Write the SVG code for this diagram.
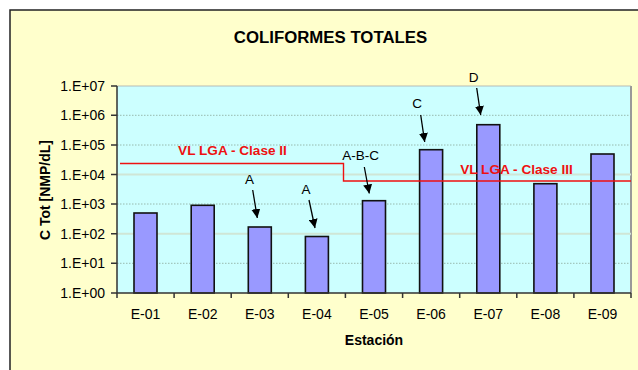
<svg xmlns="http://www.w3.org/2000/svg" width="638" height="370" viewBox="0 0 638 370">
<defs>
<marker id="ah" viewBox="0 0 10 10" refX="10" refY="5" markerWidth="9" markerHeight="9" markerUnits="userSpaceOnUse" orient="auto"><path d="M0,0 L10,5 L0,10 z" fill="#000"/></marker>
<style>
.t{font-family:"Liberation Sans",Arial,sans-serif;fill:#000}
.tick{font-size:14px;text-anchor:end}
.xl{font-size:14px;text-anchor:middle}
.red{font-family:"Liberation Sans",Arial,sans-serif;font-weight:bold;font-size:13.6px;fill:#ee1111}
.ann{font-size:13.5px;text-anchor:middle}
.bar{fill:#9999ff;stroke:#111;stroke-width:1.6}
.gd{stroke:#8aa89a;stroke-width:0.8;stroke-dasharray:1.5 1.5}
.gs{stroke:#cfe6d6;stroke-width:2}
.ax{stroke:#333;stroke-width:1.5;fill:none}
.arr{stroke:#000;stroke-width:1.3;marker-end:url(#ah)}
</style>
</defs>
<rect x="0" y="0" width="638" height="370" fill="#fff"/>
<rect x="10" y="10" width="700" height="400" fill="#ffffcc" stroke="#222" stroke-width="1.5"/>
<text class="t" x="330.5" y="43" font-size="16.8" font-weight="bold" text-anchor="middle">COLIFORMES TOTALES</text>
<g id="plot">
<rect x="117" y="86" width="514" height="207" fill="#ccffff"/>
<line x1="631" y1="86" x2="631" y2="293" stroke="#999" stroke-width="2"/>
<line x1="117" y1="86" x2="631" y2="86" stroke="#aaa" stroke-width="0.8"/>
<line class="gd" x1="117" y1="115.3" x2="631" y2="115.3"/>
<line class="gd" x1="117" y1="145" x2="631" y2="145"/>
<line class="gs" x1="117" y1="174.5" x2="631" y2="174.5"/>
<line class="gd" x1="117" y1="204" x2="631" y2="204"/>
<line class="gs" x1="117" y1="233.7" x2="631" y2="233.7"/>
<line class="gd" x1="117" y1="263.3" x2="631" y2="263.3"/>
</g>
<g id="bars">
<rect id="E-01" class="bar" x="134" y="213" width="23" height="80"/>
<rect id="E-02" class="bar" x="191.2" y="205.3" width="23" height="87.7"/>
<rect id="E-03" class="bar" x="248.3" y="227" width="23" height="66"/>
<rect id="E-04" class="bar" x="305.4" y="236.5" width="23" height="56.5"/>
<rect id="E-05" class="bar" x="362.5" y="200.7" width="23" height="92.3"/>
<rect id="E-06" class="bar" x="419.6" y="149.7" width="23" height="143.3"/>
<rect id="E-07" class="bar" x="476.8" y="124.7" width="23" height="168.3"/>
<rect id="E-08" class="bar" x="533.9" y="183.7" width="23" height="109.3"/>
<rect id="E-09" class="bar" x="591" y="154" width="23" height="139"/>
</g>
<g id="limits">
<polyline points="120,163.5 343.5,163.5 343.5,181 631,181" fill="none" stroke="#ee1111" stroke-width="1.4"/>
<text class="red" x="232.5" y="155" text-anchor="middle">VL LGA - Clase II</text>
<text class="red" x="516.5" y="174" text-anchor="middle">VL LGA - Clase III</text>
</g>
<g id="axes">
<path class="ax" d="M117,86 V293 H631"/>
<path class="ax" d="M111,86 H117 M111,115.3 H117 M111,145 H117 M111,174.5 H117 M111,204 H117 M111,233.7 H117 M111,263.3 H117 M111,293 H117"/>
<path class="ax" d="M117,293 V298 M174.1,293 V298 M231.2,293 V298 M288.3,293 V298 M345.4,293 V298 M402.6,293 V298 M459.7,293 V298 M516.8,293 V298 M573.9,293 V298 M631,293 V298"/>
<g class="t tick">
<text x="105" y="91">1.E+07</text>
<text x="105" y="120.3">1.E+06</text>
<text x="105" y="150">1.E+05</text>
<text x="105" y="179.5">1.E+04</text>
<text x="105" y="209">1.E+03</text>
<text x="105" y="238.7">1.E+02</text>
<text x="105" y="268.3">1.E+01</text>
<text x="105" y="298">1.E+00</text>
</g>
<g class="t xl">
<text x="145.5" y="319">E-01</text>
<text x="202.7" y="319">E-02</text>
<text x="259.8" y="319">E-03</text>
<text x="316.9" y="319">E-04</text>
<text x="374" y="319">E-05</text>
<text x="431.1" y="319">E-06</text>
<text x="488.3" y="319">E-07</text>
<text x="545.4" y="319">E-08</text>
<text x="602.5" y="319">E-09</text>
</g>
<text class="t" x="374" y="345" font-size="14" font-weight="bold" text-anchor="middle">Estación</text>
<text class="t" transform="translate(50,190) rotate(-90)" font-size="14" font-weight="bold" text-anchor="middle">C Tot [NMP/dL]</text>
</g>
<g id="annotations">
<text class="t ann" x="249.5" y="184">A</text>
<line class="arr" x1="252.7" y1="190" x2="257.3" y2="218"/>
<text class="t ann" x="306" y="194">A</text>
<line class="arr" x1="309" y1="200" x2="315" y2="228"/>
<text class="t ann" x="360.5" y="160">A-B-C</text>
<line class="arr" x1="364.3" y1="167" x2="369.3" y2="193.5"/>
<text class="t ann" x="417" y="108">C</text>
<line class="arr" x1="420.7" y1="115" x2="424.7" y2="142"/>
<text class="t ann" x="473.5" y="81.5">D</text>
<line class="arr" x1="476.7" y1="88" x2="480.7" y2="115"/>
</g>
</svg>
